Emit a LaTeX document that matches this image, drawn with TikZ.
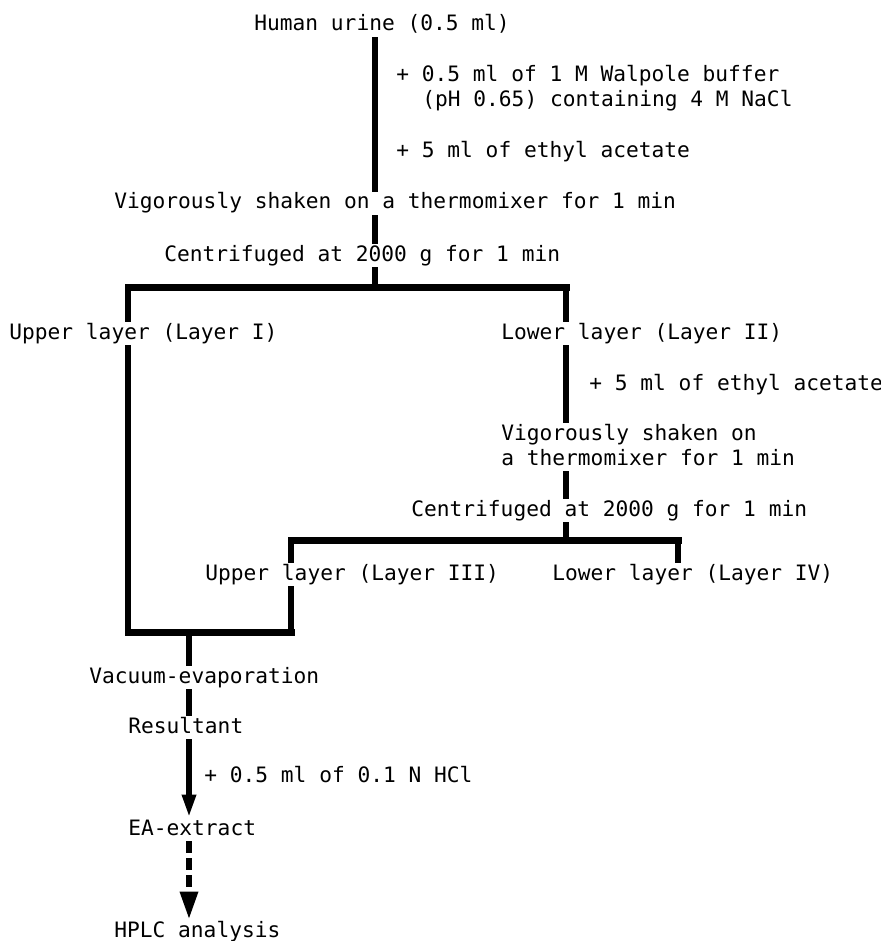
\documentclass[tikz,border=0pt]{standalone}
\usepackage{fontspec}
\newfontfamily\tw{DejaVu Sans Mono}
\usetikzlibrary{arrows.meta}
\begin{document}
\begin{tikzpicture}[x=0.5pt,y=-0.5pt,
  lbl/.style={anchor=base west,inner sep=0.5pt,text height=8pt,text depth=2.5pt,font=\tw\fontsize{10.6}{12}\selectfont},
  flow/.style={line width=3pt,line cap=butt},
  barline/.style={line width=3.5pt,line cap=rect}]
\fill[white] (0,0) rectangle (881,941);
\useasboundingbox (0,0) rectangle (881,941);
% labels
\node[lbl] (urine) at (253,31) {Human urine (0.5 ml)};
\node[lbl] (walp1) at (395,82) {+ 0.5 ml of 1 M Walpole buffer};
\node[lbl] (walp2) at (421,107) {(pH 0.65) containing 4 M NaCl};
\node[lbl] (eth1) at (395,158) {+ 5 ml of ethyl acetate};
\node[lbl] (vig1) at (113,209) {Vigorously shaken on a thermomixer for 1 min};
\node[lbl] (cen1) at (163,261) {Centrifuged at 2000 g for 1 min};
\node[lbl] (up1) at (8,339) {Upper layer (Layer I)};
\node[lbl] (low2) at (500,339) {Lower layer (Layer II)};
\node[lbl] (eth2) at (588,390) {+ 5 ml of ethyl acetate};
\node[lbl] (vig2a) at (500,440) {Vigorously shaken on};
\node[lbl] (vig2b) at (500,465) {a thermomixer for 1 min};
\node[lbl] (cen2) at (410,516) {Centrifuged at 2000 g for 1 min};
\node[lbl] (up3) at (204,580) {Upper layer (Layer III)};
\node[lbl] (low4) at (551,580) {Lower layer (Layer IV)};
\node[lbl] (vac) at (88,683) {Vacuum-evaporation};
\node[lbl] (res) at (127,733) {Resultant};
\node[lbl] (hcl) at (203,782) {+ 0.5 ml of 0.1 N HCl};
\node[lbl] (ea) at (127,835) {EA-extract};
\node[lbl] (hplc) at (113,937) {HPLC analysis};
% junctions
\coordinate (c1) at (375,287);
\coordinate (b1l) at (128,287);
\coordinate (b1r) at (566,287);
\coordinate (b2) at (566,540);
\coordinate (b2l) at (291,540);
\coordinate (b2r) at (678,540);
\coordinate (b3l) at (128,632);
\coordinate (b3r) at (291,632);
\coordinate (b3m) at (189,632);
% connectors
\draw[flow] (urine.south -| c1) -- (vig1.north -| c1);
\draw[flow] (vig1.south -| c1) -- (cen1.north -| c1);
\draw[flow] (cen1.south -| c1) -- (c1);
\draw[barline] (b1l) -- (b1r);
\draw[flow] (b1l) -- (up1.north -| b1l);
\draw[flow] (b1r) -- (low2.north -| b1r);
\draw[flow] (low2.south -| b1r) -- (vig2a.north -| b1r);
\draw[flow] (vig2b.south -| b2) -- (cen2.north -| b2);
\draw[flow] (cen2.south -| b2) -- (b2);
\draw[barline] (b2l) -- (b2r);
\draw[flow] (b2l) -- (up3.north -| b2l);
\draw[flow] (b2r) -- (low4.north -| b2r);
\draw[flow] (up1.south -| b1l) -- (b3l);
\draw[flow] (up3.south -| b2l) -- (b3r);
\draw[barline] (b3l) -- (b3r);
\draw[flow] (b3m) -- (vac.north -| b3m);
\draw[flow] (vac.south -| b3m) -- (res.north -| b3m);
\draw[flow,-{Triangle[length=11.5pt,width=6.5pt]}] (res.south -| b3m) -- (ea.north -| b3m);
\draw[flow,dash pattern=on 6pt off 2.5pt,-{Triangle[length=14pt,width=8.5pt]}] (ea.south -| b3m) -- (hplc.north -| b3m);
\end{tikzpicture}
\end{document}
